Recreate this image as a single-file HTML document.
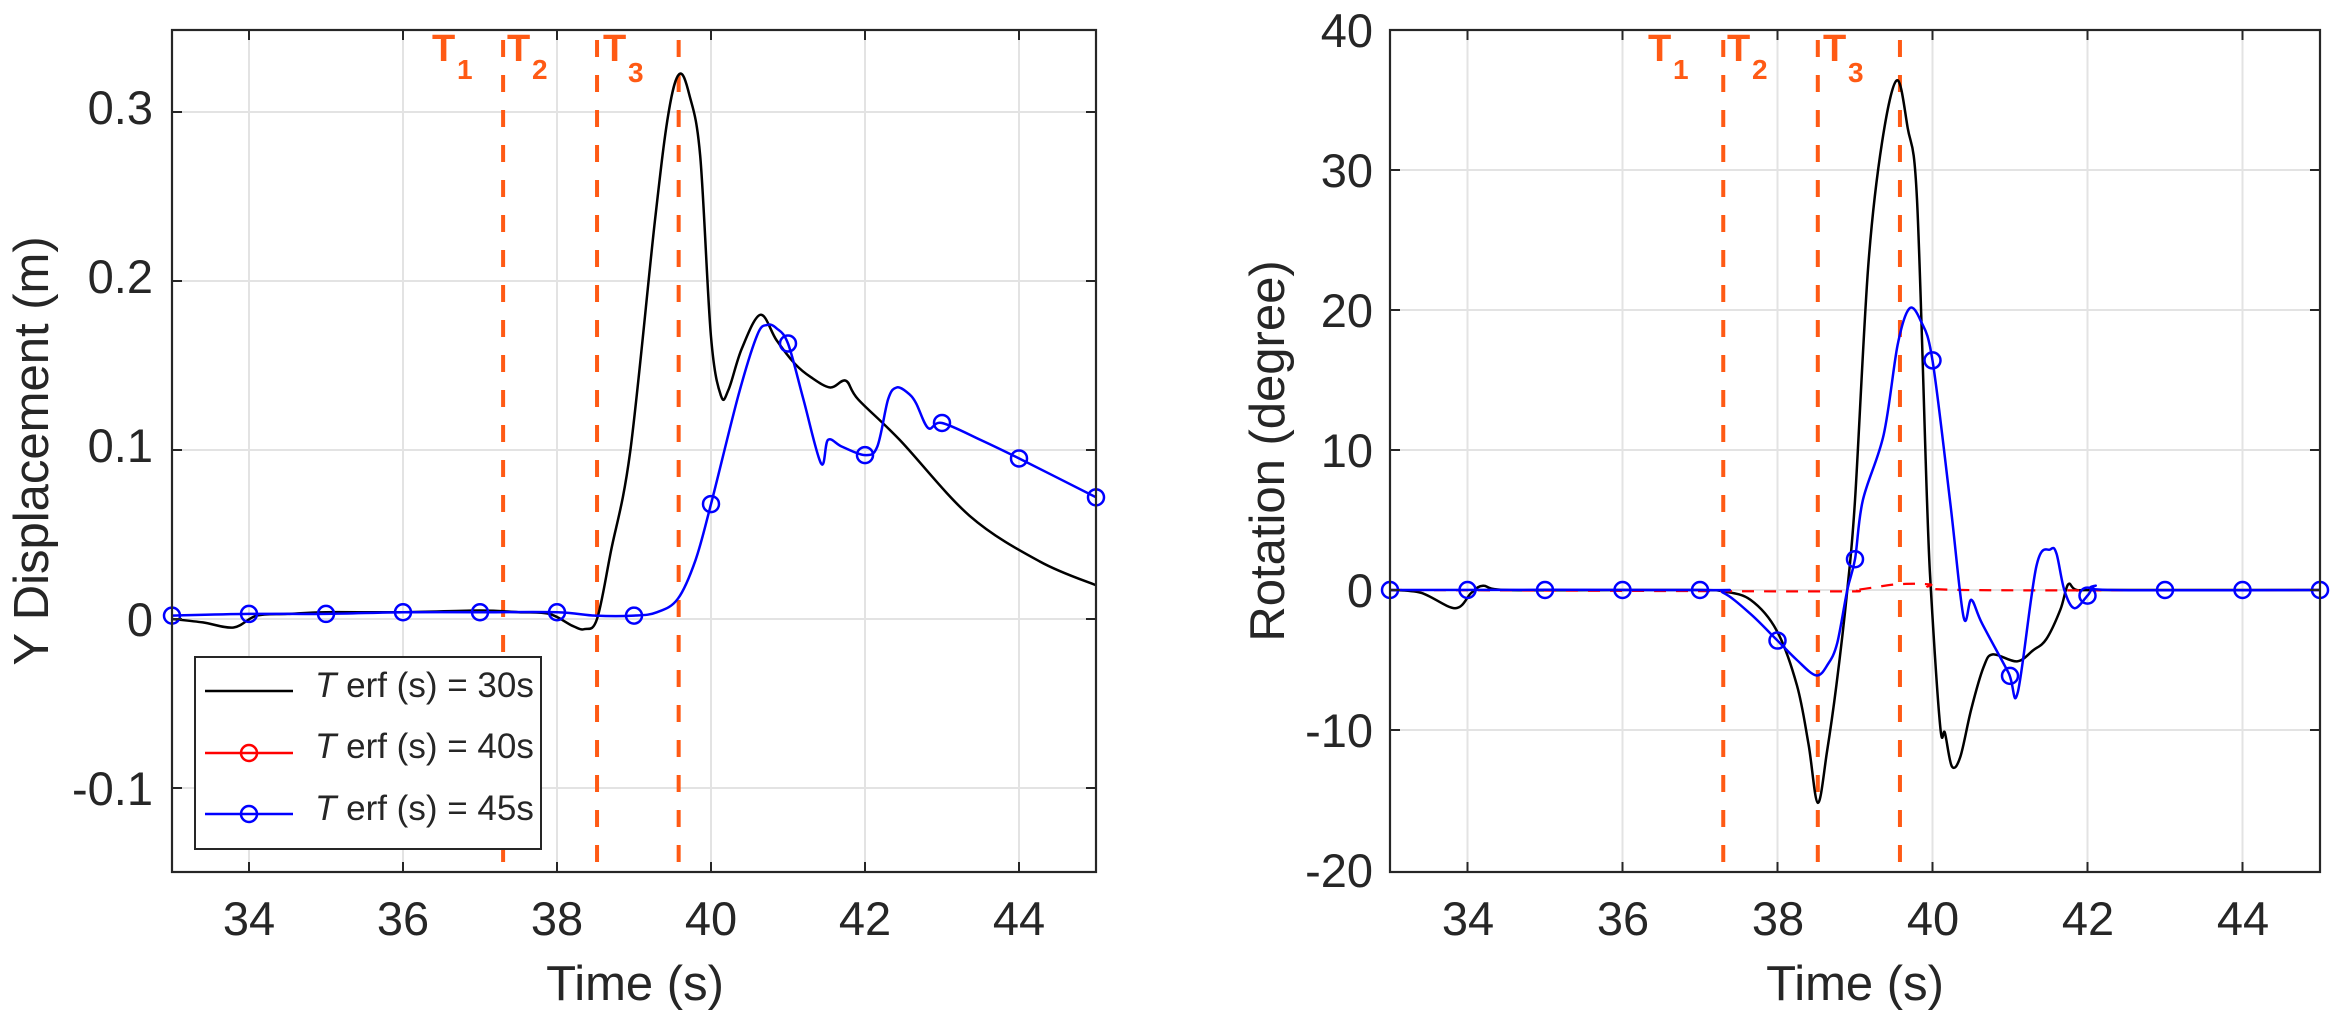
<!DOCTYPE html>
<html><head><meta charset="utf-8"><style>
html,body{margin:0;padding:0;background:#fff;}
svg{display:block;}
text{font-family:"Liberation Sans",Arial,sans-serif;fill:#262626;}
</style></head><body>
<svg id="s" width="2346" height="1025" viewBox="0 0 2346 1025" xmlns="http://www.w3.org/2000/svg">
<g id="g"></g>
<!-- Left tick labels -->
<g font-size="47" text-anchor="end">
<text x="153" y="124">0.3</text>
<text x="153" y="293">0.2</text>
<text x="153" y="462">0.1</text>
<text x="153" y="636">0</text>
<text x="153" y="805">-0.1</text>
</g>
<g font-size="47" text-anchor="middle">
<text x="249" y="935">34</text><text x="403" y="935">36</text><text x="557" y="935">38</text>
<text x="711" y="935">40</text><text x="865" y="935">42</text><text x="1019" y="935">44</text>
<text x="1468" y="935">34</text><text x="1623" y="935">36</text><text x="1778" y="935">38</text>
<text x="1933" y="935">40</text><text x="2088" y="935">42</text><text x="2243" y="935">44</text>
</g>
<g font-size="47" text-anchor="end">
<text x="1373" y="47">40</text>
<text x="1373" y="187">30</text>
<text x="1373" y="327">20</text>
<text x="1373" y="467">10</text>
<text x="1373" y="607">0</text>
<text x="1373" y="747">-10</text>
<text x="1373" y="887">-20</text>
</g>
<g font-size="49" text-anchor="middle">
<text x="635" y="1000">Time (s)</text>
<text x="1855" y="1000">Time (s)</text>
<text transform="translate(48,451) rotate(-90)">Y Displacement (m)</text>
<text transform="translate(1284,451) rotate(-90)">Rotation (degree)</text>
</g>
<!-- T labels -->
<g font-weight="bold" style="fill:#ff5a14">
<text x="432" y="61" font-size="38" style="fill:#ff5a14">T</text><text x="457" y="79" font-size="28" style="fill:#ff5a14">1</text>
<text x="507" y="61" font-size="38" style="fill:#ff5a14">T</text><text x="532" y="79" font-size="28" style="fill:#ff5a14">2</text>
<text x="603" y="61" font-size="38" style="fill:#ff5a14">T</text><text x="628" y="82" font-size="28" style="fill:#ff5a14">3</text>
<text x="1648" y="61" font-size="38" style="fill:#ff5a14">T</text><text x="1673" y="79" font-size="28" style="fill:#ff5a14">1</text>
<text x="1727" y="61" font-size="38" style="fill:#ff5a14">T</text><text x="1752" y="79" font-size="28" style="fill:#ff5a14">2</text>
<text x="1823" y="61" font-size="38" style="fill:#ff5a14">T</text><text x="1848" y="82" font-size="28" style="fill:#ff5a14">3</text>
</g>
<!-- legend -->
<rect x="195" y="657" width="346" height="192" fill="#fff" stroke="#262626" stroke-width="2"/>
<line x1="205" y1="691" x2="293" y2="691" stroke="#000" stroke-width="2.5"/>
<line x1="205" y1="753" x2="293" y2="753" stroke="#f00" stroke-width="2.5"/>
<circle cx="249" cy="753" r="8" fill="none" stroke="#f00" stroke-width="2.5"/>
<line x1="205" y1="814" x2="293" y2="814" stroke="#00f" stroke-width="2.5"/>
<circle cx="249" cy="814" r="8" fill="none" stroke="#00f" stroke-width="2.5"/>
<g font-size="35">
<text x="315" y="697"><tspan font-style="italic">T</tspan> erf (s) = 30s</text>
<text x="315" y="758"><tspan font-style="italic">T</tspan> erf (s) = 40s</text>
<text x="315" y="820"><tspan font-style="italic">T</tspan> erf (s) = 45s</text>
</g>
</svg>
<script>
(function(){
var NS="http://www.w3.org/2000/svg",g=document.getElementById('g');
function el(n,a,p){var e=document.createElementNS(NS,n);for(var k in a)e.setAttribute(k,a[k]);(p||g).insertBefore?(p||g).appendChild(e):0;return e;}
var L={x0:172,sx:77,y0:619,sy:1690,top:30,bot:872,right:1096};
var R={x0:1390,sx:77.5,y0:590,sy:14,top:30,bot:872,right:2320};
function X(P,t){return P.x0+(t-33)*P.sx;}
function Y(P,v){return P.y0-v*P.sy;}
function path(P,pts){var p=pts.map(function(a){return [X(P,a[0]),Y(P,a[1])];});
 var d="M"+p[0][0].toFixed(1)+","+p[0][1].toFixed(1);
 for(var i=0;i<p.length-1;i++){var p0=p[i-1]||p[i],p1=p[i],p2=p[i+1],p3=p[i+2]||p2;
  var c1=[p1[0]+(p2[0]-p0[0])/6,p1[1]+(p2[1]-p0[1])/6],c2=[p2[0]-(p3[0]-p1[0])/6,p2[1]-(p3[1]-p1[1])/6];
  d+="C"+c1[0].toFixed(1)+","+c1[1].toFixed(1)+" "+c2[0].toFixed(1)+","+c2[1].toFixed(1)+" "+p2[0].toFixed(1)+","+p2[1].toFixed(1);}
 return d;}
function interp(pts,t){for(var i=0;i<pts.length-1;i++){if(t>=pts[i][0]&&t<=pts[i+1][0]){var f=(t-pts[i][0])/(pts[i+1][0]-pts[i][0]);return pts[i][1]+f*(pts[i+1][1]-pts[i][1]);}}return pts[pts.length-1][1];}
function axes(P,yt){
 var clip=el('clipPath',{id:'c'+P.x0});el('rect',{x:P.x0,y:P.top,width:P.right-P.x0,height:P.bot-P.top},clip);
 for(var t=34;t<=44;t+=2){var x=X(P,t);el('line',{x1:x,y1:P.top,x2:x,y2:P.bot,stroke:'#e3e3e3','stroke-width':2});}
 yt.forEach(function(v){var y=Y(P,v);el('line',{x1:P.x0,y1:y,x2:P.right,y2:y,stroke:'#e3e3e3','stroke-width':2});});
 return 'url(#c'+P.x0+')';}
function frame(P,yt){
 el('rect',{x:P.x0,y:P.top,width:P.right-P.x0,height:P.bot-P.top,fill:'none',stroke:'#262626','stroke-width':2.2});
 for(var t=34;t<=44;t+=2){var x=X(P,t);el('line',{x1:x,y1:P.bot,x2:x,y2:P.bot-10,stroke:'#262626','stroke-width':2});el('line',{x1:x,y1:P.top,x2:x,y2:P.top+10,stroke:'#262626','stroke-width':2});}
 yt.forEach(function(v){var y=Y(P,v);el('line',{x1:P.x0,y1:y,x2:P.x0+10,y2:y,stroke:'#262626','stroke-width':2});el('line',{x1:P.right,y1:y,x2:P.right-10,y2:y,stroke:'#262626','stroke-width':2});});}
function vlines(P,cl){[37.3,38.52,39.58].forEach(function(t){var x=X(P,t);el('line',{x1:x,y1:P.top+10,x2:x,y2:P.bot,stroke:'#ff5a14','stroke-width':4,'stroke-dasharray':'17 18','clip-path':cl});});}
function series(P,pts,col,w,dash,markers,cl){
 var a={d:path(P,pts),fill:'none',stroke:col,'stroke-width':w,'stroke-linejoin':'round','clip-path':cl};if(dash)a['stroke-dasharray']=dash;el('path',a);
 if(markers)for(var t=33;t<=45;t++){el('circle',{cx:X(P,t),cy:Y(P,interp(pts,t)),r:8,fill:'none',stroke:col,'stroke-width':2.5});}}
// left
var lb=[[33,0],[33.4,-0.002],[33.8,-0.005],[34.1,0.002],[34.5,0.003],[35,0.004],[36,0.004],[37,0.005],[37.5,0.004],[37.9,0.003],[38.2,-0.004],[38.36,-0.006],[38.52,0.0],[38.7,0.04],[38.95,0.099],[39.27,0.235],[39.45,0.30],[39.59,0.3225],[39.72,0.31],[39.86,0.274],[40.0,0.167],[40.13,0.132],[40.23,0.136],[40.4,0.16],[40.64,0.18],[40.85,0.165],[41.09,0.151],[41.3,0.143],[41.55,0.137],[41.75,0.141],[41.91,0.130],[42.45,0.106],[43.36,0.061],[44.27,0.034],[45,0.020]];
var lu=[[33,0.002],[34,0.003],[35,0.003],[36,0.004],[37,0.004],[38,0.004],[38.5,0.002],[39,0.002],[39.3,0.004],[39.57,0.012],[39.8,0.035],[40.0,0.068],[40.36,0.133],[40.6,0.168],[40.73,0.174],[40.85,0.172],[41.0,0.163],[41.2,0.13],[41.43,0.092],[41.52,0.106],[41.7,0.102],[42.0,0.097],[42.16,0.102],[42.3,0.13],[42.41,0.137],[42.55,0.134],[42.66,0.128],[42.82,0.113],[43.0,0.116],[43.5,0.106],[44,0.095],[45,0.072]];
var cl=axes(L,[-0.1,0,0.1,0.2,0.3]);
vlines(L,cl);
series(L,lb,'#000',2.5,null,false,cl);
series(L,lu,'#00f',2.5,null,true,cl);
frame(L,[-0.1,0,0.1,0.2,0.3]);
// right
var rb=[[33,0],[33.4,-0.2],[33.84,-1.3],[34.05,-0.2],[34.2,0.3],[34.5,0],[36,0],[37,0],[37.3,-0.1],[37.65,-0.7],[37.99,-2.9],[38.25,-6.8],[38.4,-11],[38.52,-15.2],[38.64,-11.5],[38.76,-6.8],[38.9,0],[39.0,6.4],[39.17,23.1],[39.35,32],[39.54,36.4],[39.68,33],[39.8,27.9],[39.93,6.2],[39.98,0],[40.1,-9.8],[40.16,-10.2],[40.25,-12.6],[40.36,-11.9],[40.5,-8.5],[40.66,-5.5],[40.78,-4.6],[41.09,-5.1],[41.3,-4.3],[41.47,-3.5],[41.65,-1.4],[41.75,0.4],[41.86,0],[42.2,0],[45,0]];
var ru=[[33,0],[37,0],[37.3,-0.2],[37.65,-1.7],[37.98,-3.5],[38.25,-5.0],[38.5,-6.1],[38.65,-5.3],[38.77,-3.8],[38.9,0],[39.0,2.2],[39.1,6.4],[39.37,11.1],[39.55,17.5],[39.7,20.1],[39.85,19.2],[40.0,16.4],[40.23,6.2],[40.4,-1.9],[40.5,-0.7],[40.64,-2.4],[40.98,-5.9],[41.1,-7.3],[41.34,1.7],[41.52,2.9],[41.6,2.6],[41.7,0],[41.83,-1.3],[42.0,-0.4],[42.1,0.3],[42.3,0],[45,0]];
var rr=[[33,0],[38.5,-0.1],[39.0,0],[39.53,0.4],[39.96,0.4],[40.4,0],[45,0]];
var yt=[-10,0,10,20,30];
var cr=axes(R,yt);
vlines(R,cr);
series(R,rb,'#000',2.5,null,false,cr);
series(R,rr,'#f00',2.2,'12 10',false,cr);
series(R,ru,'#00f',2.5,null,true,cr);
frame(R,yt);
})();
</script>
</body></html>
